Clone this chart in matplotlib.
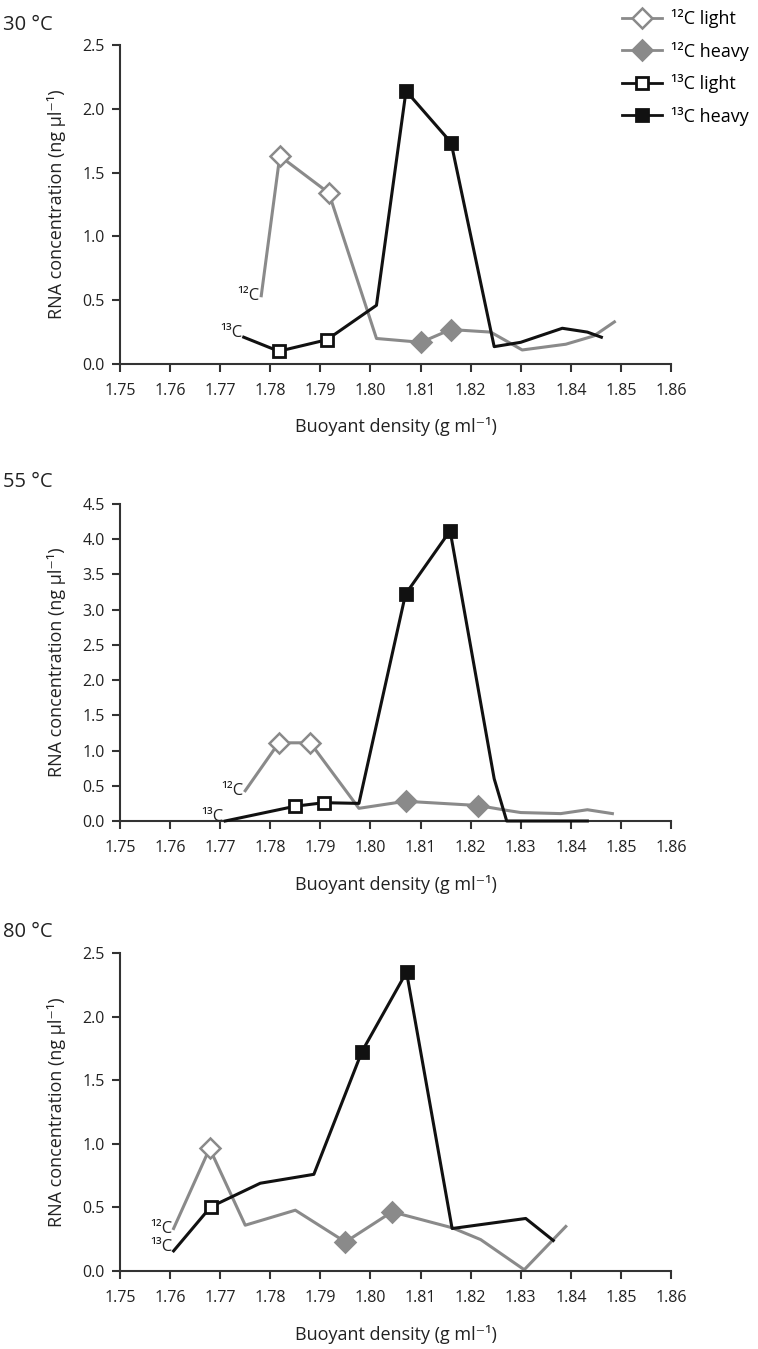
import matplotlib
matplotlib.use("Agg")
import matplotlib.pyplot as plt
from matplotlib.lines import Line2D

plt.rcParams['font.family'] = ['Open Sans', 'DejaVu Sans']

GRAY = '#8a8a8a'
BLACK = '#111111'

# 30 °C
t30_12x = [1.7782, 1.7819, 1.7917, 1.8012, 1.8101, 1.8160, 1.8240, 1.8303, 1.8390, 1.8446, 1.8487]
t30_12y = [0.535, 1.63, 1.34, 0.20, 0.17, 0.27, 0.25, 0.11, 0.155, 0.22, 0.33]
t30_13x = [1.7747, 1.7817, 1.7913, 1.8012, 1.8071, 1.8161, 1.8247, 1.8300, 1.8383, 1.8433, 1.8461]
t30_13y = [0.21, 0.10, 0.19, 0.46, 2.14, 1.735, 0.136, 0.17, 0.28, 0.25, 0.21]
t30_12light = [1, 2]
t30_12heavy = [4, 5]
t30_13light = [1, 2]
t30_13heavy = [4, 5]

# 55 °C
t55_12x = [1.7750, 1.7817, 1.7880, 1.7977, 1.8070, 1.8215, 1.8273, 1.8300, 1.8380, 1.8433, 1.8483]
t55_12y = [0.43, 1.11, 1.11, 0.18, 0.28, 0.22, 0.15, 0.12, 0.105, 0.16, 0.105]
t55_13x = [1.7710, 1.7850, 1.7907, 1.7977, 1.8070, 1.8159, 1.8247, 1.8272, 1.8433]
t55_13y = [0.0, 0.21, 0.26, 0.25, 3.22, 4.12, 0.60, 0.0, 0.0]
t55_12light = [1, 2]
t55_12heavy = [4, 5]
t55_13light = [1, 2]
t55_13heavy = [4, 5]

# 80 °C
t80_12x = [1.7607, 1.7679, 1.7750, 1.7850, 1.7950, 1.8043, 1.8163, 1.8220, 1.8307, 1.8390]
t80_12y = [0.334, 0.964, 0.36, 0.478, 0.228, 0.465, 0.34, 0.247, 0.01, 0.35]
t80_13x = [1.7607, 1.7681, 1.7780, 1.7887, 1.7983, 1.8072, 1.8163, 1.8310, 1.8365]
t80_13y = [0.158, 0.504, 0.69, 0.76, 1.725, 2.35, 0.334, 0.413, 0.24]
t80_12light = [1]
t80_12heavy = [4, 5]
t80_13light = [1]
t80_13heavy = [4, 5]

panels = [
    ("30 °C", 2.5, t30_12x, t30_12y, t30_13x, t30_13y, t30_12light, t30_12heavy, t30_13light, t30_13heavy),
    ("55 °C", 4.5, t55_12x, t55_12y, t55_13x, t55_13y, t55_12light, t55_12heavy, t55_13light, t55_13heavy),
    ("80 °C", 2.5, t80_12x, t80_12y, t80_13x, t80_13y, t80_12light, t80_12heavy, t80_13light, t80_13heavy),
]

xticks = [1.75, 1.76, 1.77, 1.78, 1.79, 1.80, 1.81, 1.82, 1.83, 1.84, 1.85, 1.86]

W, H = 758, 1349
fig = plt.figure(figsize=(W / 100, H / 100), dpi=100)

# pixel boxes: (top, bottom) of the plotting area
boxes = [(45, 364), (504, 821), (953, 1271)]
title_y = [25, 482, 932]
left_px, right_px = 120, 671

DMS, SMS = 10.5, 9

for (title, ymax, x12, y12, x13, y13, l12, h12, l13, h13), (top, bot), ty in zip(panels, boxes, title_y):
    ax = fig.add_axes([left_px / W, 1 - bot / H, (right_px - left_px) / W, (bot - top) / H])
    ax.plot(x12, y12, color=GRAY, lw=2.2, clip_on=False, zorder=2)
    ax.plot(x13, y13, color=BLACK, lw=2.2, clip_on=False, zorder=3)
    ax.plot([x12[i] for i in l12], [y12[i] for i in l12], ls='none', marker='D', ms=DMS,
            mfc='white', mec=GRAY, mew=1.8, clip_on=False, zorder=4)
    ax.plot([x12[i] for i in h12], [y12[i] for i in h12], ls='none', marker='D', ms=DMS,
            mfc=GRAY, mec=GRAY, mew=1.8, clip_on=False, zorder=4)
    ax.plot([x13[i] for i in l13], [y13[i] for i in l13], ls='none', marker='s', ms=SMS,
            mfc='white', mec=BLACK, mew=2.0, clip_on=False, zorder=5)
    ax.plot([x13[i] for i in h13], [y13[i] for i in h13], ls='none', marker='s', ms=SMS,
            mfc=BLACK, mec=BLACK, mew=2.0, clip_on=False, zorder=5)

    # series tags at the start of each line
    ax.annotate("¹²C", (x12[0], y12[0]), xytext=(-1, 0), textcoords='offset points',
                ha='right', va='center', fontsize=12, color='#222222')
    ax.annotate("¹³C", (x13[0], y13[0]), xytext=(-1, 3), textcoords='offset points',
                ha='right', va='center', fontsize=12, color='#222222')

    ax.set_xlim(1.75, 1.86)
    ax.set_ylim(0, ymax)
    ax.set_xticks(xticks)
    ax.set_xticklabels([f"{v:.2f}" for v in xticks])
    yt = [i * 0.5 for i in range(int(ymax / 0.5) + 1)]
    ax.set_yticks(yt)
    ax.set_yticklabels([f"{v:.1f}" for v in yt])
    for s in ['top', 'right']:
        ax.spines[s].set_visible(False)
    for s in ['left', 'bottom']:
        ax.spines[s].set_linewidth(1.5)
        ax.spines[s].set_color('#333333')
    ax.tick_params(direction='out', length=6, width=1.5, color='#333333',
                   labelsize=11.5, labelcolor='#222222')
    ax.tick_params(axis='y', pad=5)
    ax.tick_params(axis='x', pad=8)
    ax.set_xlabel("Buoyant density (g ml⁻¹)", fontsize=13, color='#222222', labelpad=13)
    ax.set_ylabel("RNA concentration (ng µl⁻¹)", fontsize=13, color='#222222', labelpad=12)
    fig.text(3 / W, 1 - ty / H, title, fontsize=14.5, ha='left', va='center', color='#222222')

handles = [
    Line2D([], [], color=GRAY, lw=2, marker='D', ms=DMS, mfc='white', mec=GRAY, mew=1.8),
    Line2D([], [], color=GRAY, lw=2, marker='D', ms=DMS, mfc=GRAY, mec=GRAY, mew=1.8),
    Line2D([], [], color=BLACK, lw=2, marker='s', ms=SMS, mfc='white', mec=BLACK, mew=2.0),
    Line2D([], [], color=BLACK, lw=2, marker='s', ms=SMS, mfc=BLACK, mec=BLACK, mew=2.0),
]
labels = ["¹²C light", "¹²C heavy", "¹³C light", "¹³C heavy"]
fig.legend(handles, labels, loc='upper right', bbox_to_anchor=(1.0, 1.0), frameon=False,
           fontsize=13, handlelength=2.2, handletextpad=0.5, labelspacing=0.75,
           borderaxespad=0.1)

fig.savefig("out.png", dpi=100)
